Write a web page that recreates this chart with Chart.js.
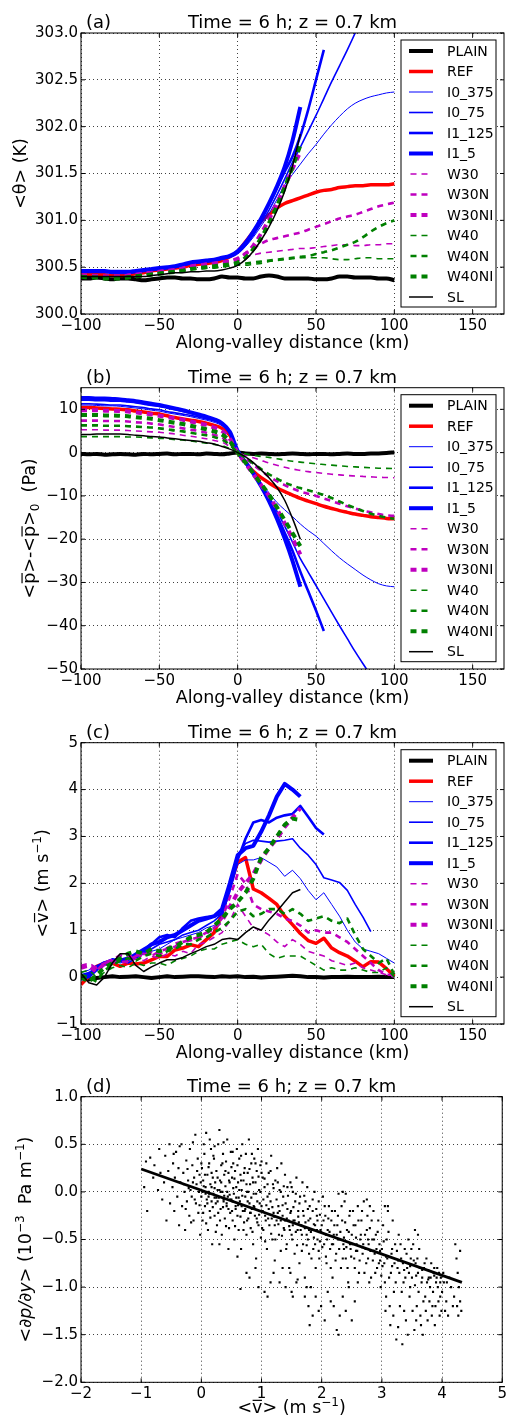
<!DOCTYPE html>
<html><head><meta charset="utf-8">
<script src="https://cdn.jsdelivr.net/npm/chart.js@4.4.0/dist/chart.umd.min.js"></script>
<style>
html,body{margin:0;padding:0;background:#fff;}
body{width:510px;height:1421px;position:relative;overflow:hidden;}
canvas{position:absolute;left:0;}
</style>
</head><body>
<canvas id="ca" width="510" height="355" style="top:0px"></canvas>
<canvas id="cb" width="510" height="355" style="top:355px"></canvas>
<canvas id="cc" width="510" height="355" style="top:710px"></canvas>
<canvas id="cd" width="510" height="356" style="top:1065px"></canvas>
<script>
// ---------------- DATA ----------------
const dist = [-100,-95,-90,-85,-80,-75,-70,-65,-60,-55,-50,-45,-40,-35,-30,-25,-20,-15,-10,-5,0,5,10,15,20,25,30,35,40,45,50,55,60,65,70,75,80,85,90,95,100];
const seriesNames = ['PLAIN','REF','I0_375','I0_75','I1_125','I1_5','W30','W30N','W30NI','W40','W40N','W40NI','SL'];
const xTicks = [-100,-50,0,50,100,150];
const yTicksA = [300.0,300.5,301.0,301.5,302.0,302.5,303.0];
const yTicksB = [-50,-40,-30,-20,-10,0,10];
const yTicksC = [-1,0,1,2,3,4,5];
const xTicksD = [-2,-1,0,1,2,3,4,5];
const yTicksD = [-2.0,-1.5,-1.0,-0.5,0.0,0.5,1.0];
const N = null;

// (a) <theta> (K)
const thetaPLAIN = [300.38,300.38,300.39,300.38,300.37,300.38,300.38,300.37,300.36,300.37,300.38,300.39,300.39,300.38,300.38,300.37,300.37,300.38,300.40,300.39,300.39,300.38,300.38,300.40,300.41,300.40,300.38,300.38,300.38,300.38,300.37,300.37,300.38,300.40,300.40,300.39,300.39,300.39,300.38,300.38,300.36];
const thetaREF = [300.42,300.42,300.42,300.42,300.41,300.41,300.42,300.43,300.44,300.46,300.47,300.48,300.49,300.50,300.52,300.53,300.54,300.55,300.57,300.61,300.67,300.77,300.88,300.99,301.06,301.13,301.18,301.21,301.24,301.27,301.30,301.32,301.33,301.35,301.36,301.37,301.37,301.38,301.38,301.38,301.39];
const thetaI0_375 = [300.44,300.44,300.44,300.44,300.43,300.43,300.43,300.44,300.45,300.46,300.47,300.48,300.49,300.51,300.53,300.54,300.55,300.56,300.58,300.60,300.64,300.72,300.82,300.94,301.07,301.22,301.38,301.49,301.60,301.71,301.81,301.92,302.02,302.11,302.19,302.25,302.29,302.32,302.34,302.36,302.37];
const thetaI0_75 = [300.45,300.45,300.45,300.45,300.44,300.44,300.44,300.45,300.46,300.47,300.48,300.49,300.50,300.52,300.54,300.55,300.56,300.57,300.59,300.61,300.65,300.73,300.84,300.97,301.11,301.27,301.44,301.62,301.78,301.95,302.12,302.30,302.48,302.65,302.82,303.00,303.20,N,N,N,N];
const thetaI1_125 = [300.46,300.46,300.46,300.46,300.45,300.45,300.45,300.46,300.47,300.48,300.49,300.50,300.51,300.53,300.55,300.56,300.57,300.58,300.60,300.62,300.66,300.75,300.87,301.01,301.17,301.34,301.52,301.68,301.90,302.18,302.50,302.82,N,N,N,N,N,N,N,N,N];
const thetaI1_5 = [300.46,300.46,300.46,300.46,300.45,300.45,300.45,300.46,300.47,300.48,300.49,300.50,300.51,300.53,300.55,300.56,300.57,300.58,300.60,300.62,300.67,300.76,300.88,301.02,301.18,301.36,301.57,301.85,302.21,N,N,N,N,N,N,N,N,N,N,N,N];
const thetaW30 = [300.42,300.42,300.41,300.41,300.41,300.41,300.42,300.43,300.44,300.45,300.46,300.47,300.48,300.50,300.52,300.53,300.54,300.55,300.56,300.57,300.59,300.61,300.63,300.65,300.66,300.67,300.68,300.69,300.70,300.70,300.71,300.72,300.73,300.74,300.74,300.73,300.73,300.74,300.74,300.75,300.75];
const thetaW30N = [300.41,300.41,300.41,300.40,300.40,300.40,300.41,300.42,300.43,300.44,300.45,300.46,300.47,300.49,300.51,300.52,300.53,300.54,300.55,300.57,300.60,300.65,300.70,300.75,300.79,300.81,300.83,300.85,300.87,300.90,300.93,300.96,300.99,301.02,301.04,301.06,301.09,301.12,301.15,301.17,301.19];
const thetaW30NI = [300.41,300.41,300.40,300.40,300.40,300.40,300.41,300.42,300.43,300.44,300.45,300.46,300.47,300.48,300.50,300.52,300.53,300.54,300.55,300.56,300.58,300.64,300.73,300.86,301.01,301.18,301.36,301.55,301.73,N,N,N,N,N,N,N,N,N,N,N,N];
const thetaW40 = [300.40,300.40,300.39,300.39,300.39,300.39,300.40,300.41,300.42,300.43,300.43,300.44,300.45,300.46,300.47,300.48,300.49,300.49,300.50,300.51,300.52,300.52,300.53,300.54,300.56,300.57,300.58,300.59,300.60,300.60,300.60,300.60,300.59,300.58,300.58,300.59,300.60,300.60,300.59,300.59,300.59];
const thetaW40N = [300.40,300.40,300.39,300.39,300.39,300.39,300.40,300.41,300.42,300.43,300.44,300.45,300.46,300.47,300.48,300.49,300.50,300.50,300.51,300.52,300.53,300.54,300.55,300.56,300.57,300.58,300.59,300.60,300.61,300.62,300.64,300.66,300.68,300.71,300.74,300.77,300.82,300.88,300.93,300.97,301.00];
const thetaW40NI = [300.40,300.39,300.39,300.38,300.38,300.38,300.39,300.40,300.41,300.42,300.43,300.44,300.45,300.46,300.48,300.49,300.50,300.51,300.52,300.53,300.55,300.60,300.69,300.81,300.97,301.15,301.35,301.57,301.80,N,N,N,N,N,N,N,N,N,N,N,N];
const thetaSL = [300.40,300.40,300.40,300.40,300.40,300.40,300.40,300.40,300.40,300.41,300.42,300.43,300.44,300.44,300.45,300.45,300.46,300.46,300.47,300.49,300.52,300.58,300.67,300.79,300.93,301.10,301.31,301.58,301.92,N,N,N,N,N,N,N,N,N,N,N,N];

// (b) pressure anomaly (Pa)
const presPLAIN = [-0.3,-0.4,-0.3,-0.5,-0.4,-0.3,-0.4,-0.5,-0.3,-0.4,-0.3,-0.2,-0.4,-0.3,-0.3,-0.4,-0.2,-0.3,-0.4,-0.2,0.0,-0.2,-0.3,-0.2,-0.3,-0.4,-0.3,-0.2,-0.3,-0.4,-0.3,-0.3,-0.4,-0.3,-0.2,-0.3,-0.3,-0.2,-0.2,-0.1,0.1];
const presREF = [10.4,10.4,10.3,10.2,10.1,10.0,9.9,9.6,9.4,9.1,8.9,8.5,8.1,7.8,7.5,7.2,6.8,6.3,5.6,4.0,0.0,-2.3,-4.3,-5.8,-7.0,-8.1,-9.0,-9.8,-10.6,-11.2,-11.8,-12.4,-12.9,-13.4,-13.8,-14.2,-14.5,-14.8,-15.0,-15.2,-15.3];
const presI0_375 = [11.0,11.0,10.9,10.8,10.8,10.7,10.5,10.3,10.1,9.8,9.6,9.2,8.9,8.6,8.3,7.9,7.5,7.0,6.2,4.3,0.2,-2.2,-4.5,-7.0,-9.3,-11.5,-13.2,-14.8,-16.5,-18.0,-19.3,-21.0,-22.7,-24.3,-25.7,-27.0,-28.3,-29.4,-30.3,-30.8,-31.0];
const presI0_75 = [11.3,11.3,11.2,11.1,11.0,11.0,10.8,10.6,10.4,10.1,9.9,9.5,9.2,8.9,8.6,8.2,7.8,7.3,6.5,4.5,0.2,-2.2,-4.6,-7.2,-10.2,-13.5,-17.0,-20.7,-24.5,-27.6,-30.7,-33.8,-36.9,-40.0,-43.0,-46.0,-48.8,-51.5,N,N,N];
const presI1_125 = [12.2,12.2,12.1,12.1,12.0,12.0,11.8,11.6,11.3,11.0,10.8,10.4,10.0,9.6,9.2,8.7,8.2,7.6,6.6,4.6,0.3,-2.2,-4.7,-7.5,-10.8,-14.5,-18.5,-22.7,-27.5,-32.0,-36.5,-41.2,N,N,N,N,N,N,N,N,N];
const presI1_5 = [12.6,12.6,12.5,12.5,12.4,12.3,12.1,11.9,11.6,11.3,11.0,10.6,10.2,9.8,9.3,8.8,8.3,7.7,6.8,4.8,0.4,-2.2,-4.8,-7.8,-11.2,-15.2,-19.8,-25.0,-31.0,N,N,N,N,N,N,N,N,N,N,N,N];
const presW30 = [5.3,5.3,5.3,5.2,5.2,5.2,5.1,5.0,4.9,4.8,4.7,4.5,4.3,4.0,3.8,3.5,3.2,2.8,2.4,1.4,0.0,-0.6,-1.2,-1.8,-2.4,-2.9,-3.4,-3.8,-4.1,-4.4,-4.6,-4.8,-5.0,-5.15,-5.3,-5.4,-5.5,-5.6,-5.7,-5.75,-5.8];
const presW30N = [7.4,7.4,7.4,7.3,7.3,7.3,7.2,7.0,6.9,6.7,6.5,6.2,5.9,5.6,5.3,5.0,4.6,4.1,3.5,2.1,0.0,-1.3,-2.8,-4.2,-5.5,-6.6,-7.5,-8.3,-9.0,-9.5,-10.0,-10.6,-11.2,-11.8,-12.4,-12.9,-13.4,-13.8,-14.2,-14.5,-14.6];
const presW30NI = [9.8,9.8,9.8,9.7,9.7,9.6,9.5,9.3,9.1,8.8,8.5,8.2,7.9,7.6,7.2,6.8,6.4,5.8,5.0,3.2,0.0,-2.5,-5.0,-7.5,-10.0,-13.0,-16.3,-19.8,-23.5,N,N,N,N,N,N,N,N,N,N,N,N];
const presW40 = [3.7,3.7,3.7,3.7,3.7,3.7,3.6,3.6,3.5,3.4,3.3,3.2,3.0,2.9,2.7,2.4,2.2,1.9,1.6,0.9,0.0,-0.3,-0.6,-0.9,-1.1,-1.4,-1.7,-2.0,-2.2,-2.4,-2.6,-2.75,-2.9,-3.05,-3.2,-3.3,-3.4,-3.5,-3.6,-3.65,-3.7];
const presW40N = [6.3,6.3,6.3,6.2,6.2,6.2,6.1,6.0,5.9,5.8,5.6,5.4,5.1,4.9,4.6,4.3,4.0,3.6,3.0,1.8,0.0,-1.2,-2.5,-3.8,-5.0,-6.0,-6.9,-7.6,-8.2,-8.7,-9.2,-9.8,-10.5,-11.3,-12.1,-12.8,-13.5,-14.1,-14.6,-15.0,-15.3];
const presW40NI = [8.7,8.7,8.7,8.6,8.6,8.5,8.4,8.2,8.0,7.8,7.5,7.2,6.9,6.6,6.2,5.8,5.4,4.9,4.2,2.6,0.0,-2.3,-4.8,-7.2,-9.7,-12.6,-15.6,-18.6,-21.6,N,N,N,N,N,N,N,N,N,N,N,N];
const presSL = [4.2,4.2,4.3,4.3,4.3,4.3,4.2,4.0,3.9,3.7,3.6,3.4,3.2,3.0,2.8,2.6,2.3,2.0,1.4,0.8,0.0,-1.0,-2.3,-4.0,-5.8,-8.0,-11.0,-15.2,-20.0,N,N,N,N,N,N,N,N,N,N,N,N];

// (c) <v> (m/s)
const velPLAIN = [0.0,-0.05,-0.02,0.0,0.02,0.0,0.01,0.02,0.0,-0.02,0.0,0.02,0.0,0.01,0.02,0.02,0.01,0.0,0.02,0.01,0.02,0.0,0.01,-0.01,0.0,0.01,0.02,0.03,0.02,0.0,0.0,-0.01,0.0,0.0,0.01,0.0,0.0,0.0,0.01,0.0,0.0];
const velREF = [-0.16,0.01,0.23,0.3,0.3,0.23,0.3,0.28,0.3,0.37,0.44,0.44,0.58,0.62,0.69,0.65,0.8,0.95,1.35,1.95,2.45,2.55,1.88,1.8,1.68,1.55,1.3,1.12,0.93,0.78,0.72,0.83,0.62,0.52,0.45,0.34,0.22,0.33,0.32,0.18,0.02];
const velI0_375 = [0.1,0.15,0.25,0.3,0.35,0.3,0.35,0.4,0.5,0.55,0.6,0.7,0.8,0.85,0.9,0.95,1.05,1.1,1.3,1.8,2.4,2.5,2.5,2.55,2.45,2.35,2.15,2.28,2.1,1.85,1.65,1.8,1.55,1.3,1.0,0.75,0.6,0.55,0.5,0.4,0.3];
const velI0_75 = [0.05,0.1,0.15,0.25,0.3,0.35,0.3,0.4,0.5,0.6,0.7,0.75,0.8,0.9,0.95,1.0,1.1,1.2,1.35,1.9,2.6,2.85,2.92,2.9,2.88,2.9,2.92,2.95,2.75,2.6,2.4,2.12,2.07,2.02,1.85,1.55,1.28,0.97,N,N,N];
const velI1_125 = [-0.05,0.0,0.15,0.3,0.38,0.35,0.4,0.5,0.6,0.7,0.85,0.9,0.85,1.05,1.2,1.25,1.28,1.3,1.35,1.9,2.5,2.95,3.3,3.35,3.3,3.4,3.45,3.48,3.65,3.42,3.18,3.04,N,N,N,N,N,N,N,N,N];
const velI1_5 = [0.0,0.05,0.2,0.3,0.35,0.35,0.4,0.45,0.55,0.7,0.75,0.85,0.9,1.0,1.1,1.2,1.25,1.3,1.45,2.0,2.6,2.75,2.8,3.1,3.45,3.85,4.12,4.0,3.85,N,N,N,N,N,N,N,N,N,N,N,N];
const velW30 = [0.25,0.3,0.2,0.25,0.3,0.35,0.3,0.4,0.35,0.45,0.4,0.5,0.45,0.55,0.5,0.7,0.75,0.85,0.95,1.2,1.55,1.3,1.05,1.0,0.9,0.75,0.65,0.8,0.7,0.55,0.5,0.45,0.35,0.3,0.25,0.3,0.2,0.15,0.1,0.05,0.0];
const velW30N = [0.2,0.25,0.2,0.3,0.35,0.3,0.35,0.45,0.5,0.45,0.55,0.6,0.65,0.75,0.8,0.85,0.95,1.05,1.25,1.7,2.2,2.0,1.55,1.45,1.4,1.35,1.25,1.2,1.1,0.95,1.0,0.95,0.95,0.85,0.75,0.6,0.45,0.3,0.15,0.05,0.05];
const velW30NI = [0.2,0.25,0.1,0.3,0.35,0.45,0.4,0.5,0.45,0.55,0.5,0.6,0.7,0.75,0.8,0.85,0.95,1.05,1.2,1.5,1.8,2.0,2.2,2.5,2.75,2.95,3.2,3.4,3.6,N,N,N,N,N,N,N,N,N,N,N,N];
const velW40 = [0.1,0.15,0.0,0.1,0.2,0.25,0.2,0.3,0.25,0.3,0.3,0.25,0.35,0.4,0.45,0.55,0.6,0.6,0.7,0.75,0.8,0.7,0.65,0.7,0.5,0.4,0.45,0.45,0.45,0.35,0.25,0.15,0.2,0.15,0.15,0.2,0.15,0.1,0.1,0.2,0.0];
const velW40N = [0.05,0.0,-0.1,0.15,0.25,0.35,0.4,0.35,0.45,0.5,0.45,0.55,0.6,0.7,0.7,0.8,0.85,0.95,1.05,1.2,1.4,1.45,1.3,1.35,1.45,1.45,1.35,1.45,1.35,1.2,1.25,1.3,1.2,1.15,1.25,0.9,0.6,0.45,0.3,0.4,0.05];
const velW40NI = [0.0,-0.1,0.05,0.2,0.3,0.4,0.5,0.55,0.5,0.6,0.55,0.6,0.65,0.75,0.85,0.9,0.95,1.1,1.25,1.45,1.6,1.8,2.1,2.55,2.75,3.0,3.25,3.38,3.35,N,N,N,N,N,N,N,N,N,N,N,N];
const velSL = [0.08,-0.12,-0.17,0.0,0.3,0.5,0.5,0.25,0.12,0.22,0.3,0.37,0.37,0.42,0.5,0.57,0.65,0.7,0.8,0.83,0.8,0.95,1.07,1.0,1.22,1.4,1.6,1.8,1.87,N,N,N,N,N,N,N,N,N,N,N,N];

// (d) scatter: [<v>, <dp/dy>] pairs read from the cloud, and regression line ends
const scatterPoints = [
[-0.95,0.05],[-0.92,0.32],[-0.9,-0.2],[-0.85,0.36],[-0.8,0.15],[-0.78,0.28],[-0.72,0.02],[-0.7,0.45],[-0.68,0.2],[-0.65,-0.08],[-0.62,0.1],[-0.6,0.38],[-0.58,-0.3],[-0.55,0.22],[-0.53,0.5],[-0.52,-0.12],
[-0.48,0.05],[-0.47,0.3],[-0.45,-0.2],[-0.44,0.15],[-0.42,0.42],[-0.4,-0.05],[-0.38,0.25],[-0.37,-0.35],[-0.35,0.1],[-0.33,0.5],[-0.32,-0.15],[-0.3,0.2],[-0.28,0.0],[-0.27,-0.4],[-0.25,0.33],[-0.24,-0.1],[-0.22,0.12],[-0.2,-0.25],[-0.19,0.45],[-0.18,0.02],[-0.16,-0.05],[-0.15,0.28],[-0.13,-0.3],[-0.12,0.15],[-0.1,0.6],[-0.09,-0.12],[-0.08,0.08],[-0.06,0.35],[-0.05,-0.22],[-0.04,0.0],[-0.03,0.18],[-0.02,-0.45],[-0.01,0.1],
[0.0,-0.05],[0.01,0.25],[0.02,-0.3],[0.03,0.12],[0.05,0.4],[0.06,-0.15],[0.07,0.05],[0.08,0.62],[0.09,-0.08],[0.1,0.18],[0.11,-0.4],[0.12,0.0],[0.13,0.3],[0.14,-0.2],[0.15,0.08],[0.16,0.45],[0.17,-0.1],[0.18,-0.55],[0.19,0.15],[0.2,-0.02],[0.21,0.35],[0.22,-0.25],[0.23,0.1],[0.24,-0.12],[0.25,0.22],[0.26,-0.35],[0.27,0.02],[0.28,0.5],[0.29,-0.06],[0.3,0.65],[0.31,0.12],[0.32,-0.18],[0.33,0.28],[0.34,-0.45],[0.35,0.0],[0.36,0.4],[0.37,-0.1],[0.38,0.18],[0.39,-0.28],[0.4,0.06],[0.41,0.32],[0.42,-0.15],[0.43,0.55],[0.44,-0.05],[0.45,0.2],[0.46,-0.38],[0.47,0.1],[0.48,-0.22],[0.49,0.42],
[0.5,-0.08],[0.51,0.15],[0.52,-0.3],[0.53,0.3],[0.54,-0.02],[0.55,-0.5],[0.56,0.22],[0.57,-0.15],[0.58,0.05],[0.59,0.45],[0.6,-0.25],[0.61,0.1],[0.62,-0.4],[0.63,0.35],[0.64,-0.1],[0.65,0.18],[0.66,-0.6],[0.67,0.02],[0.68,0.5],[0.69,-0.2],[0.7,0.12],[0.71,-0.32],[0.72,0.25],[0.73,-0.05],[0.74,0.4],[0.75,-0.45],[0.76,0.0],[0.77,0.2],[0.78,-0.28],[0.79,0.55],[0.8,-0.12],[0.81,0.08],[0.82,-0.38],[0.83,0.3],[0.84,-0.18],[0.85,0.15],[0.86,-0.55],[0.87,-0.02],[0.88,0.35],[0.89,-0.25],[0.9,0.1],[0.91,-0.7],[0.92,0.22],[0.93,-0.1],[0.94,0.45],[0.95,-0.35],[0.96,0.02],[0.97,-0.2],[0.98,0.28],[0.99,-0.48],
[1.0,-0.15],[1.02,0.15],[1.03,-0.4],[1.05,0.05],[1.06,-0.25],[1.08,0.3],[1.09,-0.6],[1.1,-0.05],[1.12,0.2],[1.13,-0.35],[1.15,-0.1],[1.16,0.38],[1.18,-0.5],[1.19,0.08],[1.2,-0.22],[1.22,-0.72],[1.23,0.12],[1.25,-0.3],[1.26,0.25],[1.28,-0.15],[1.29,-0.45],[1.3,0.02],[1.32,-0.62],[1.33,0.3],[1.35,-0.25],[1.36,-0.05],[1.38,-0.4],[1.39,0.18],[1.4,-0.12],[1.42,-0.55],[1.43,0.05],[1.45,-0.3],[1.46,-0.8],[1.48,0.1],[1.49,-0.2],
[1.5,-0.45],[1.52,0.0],[1.53,-0.3],[1.55,-0.65],[1.56,-0.1],[1.58,0.15],[1.6,-0.4],[1.61,-0.2],[1.63,-0.75],[1.64,-0.05],[1.66,-0.35],[1.68,0.1],[1.69,-0.55],[1.7,-0.25],[1.72,-0.9],[1.73,-0.1],[1.75,-0.45],[1.76,0.05],[1.78,-0.3],[1.79,-0.65],[1.8,-0.15],[1.82,-1.0],[1.83,-0.4],[1.85,-0.2],[1.86,-0.6],[1.88,0.0],[1.89,-0.35],[1.9,-0.8],[1.92,-0.25],[1.93,-0.5],[1.95,-0.1],[1.96,-0.7],[1.98,-0.4],[1.99,-1.2],
[1.48,-0.85],[1.5,-1.05],[1.52,-1.1],[1.58,-0.95],[1.72,-1.1],[1.78,-1.2],[1.8,-1.4],[1.85,-1.3],[1.9,-1.1],[1.95,-1.25],[2.05,-1.35],[2.1,-1.05],[2.2,-1.2],[2.25,-1.45],[2.28,-1.5],[2.3,-1.3],[2.35,-1.1],[2.45,-1.0],[2.55,-1.15],[2.6,-0.95],
[0.75,-0.85],[0.8,-0.9],[0.95,-1.0],[1.05,-1.05],[1.1,-1.1],[1.15,-0.95],[0.65,-1.02],[1.3,-0.95],[1.4,-1.0],
[2.0,-0.35],[2.02,-0.05],[2.04,-0.55],[2.06,-0.25],[2.08,-0.75],[2.1,-0.4],[2.12,-0.15],[2.14,-0.6],[2.16,-0.3],[2.18,-0.9],[2.2,-0.45],[2.22,-0.2],[2.24,-0.65],[2.26,-0.35],[2.28,-0.02],[2.3,-0.5],[2.32,-0.8],[2.34,-0.3],[2.36,-0.55],[2.38,-0.1],[2.4,-0.7],[2.42,-0.4],[2.44,-0.95],[2.46,-0.25],[2.48,-0.6],
[2.5,-0.45],[2.52,-0.2],[2.54,-0.7],[2.56,-0.35],[2.58,-0.55],[2.6,-0.15],[2.62,-0.85],[2.64,-0.5],[2.66,-0.3],[2.68,-0.65],[2.7,-0.1],[2.72,-0.45],[2.74,-0.75],[2.76,-0.25],[2.78,-0.55],[2.8,-0.38],[2.82,-0.9],[2.84,-0.5],[2.86,-0.2],[2.88,-0.65],[2.9,-0.45],[2.92,-0.8],[2.94,-0.3],[2.96,-0.55],[2.98,-1.0],
[3.0,-0.6],[3.02,-0.35],[3.04,-0.75],[3.06,-1.25],[3.08,-0.5],[3.1,-0.15],[3.12,-0.9],[3.14,-1.4],[3.16,-0.65],[3.18,-0.3],[3.2,-1.05],[3.22,-0.55],[3.24,-1.55],[3.26,-0.8],[3.28,-0.45],[3.3,-1.2],[3.32,-0.7],[3.34,-1.6],[3.36,-0.95],[3.38,-0.6],[3.4,-1.35],[3.42,-0.8],[3.44,-0.5],[3.46,-1.1],[3.48,-0.7],
[3.5,-0.9],[3.52,-0.55],[3.54,-1.45],[3.56,-0.75],[3.58,-1.2],[3.6,-0.85],[3.62,-0.6],[3.64,-1.3],[3.66,-0.95],[3.68,-1.5],[3.7,-0.8],[3.72,-1.1],[3.74,-0.7],[3.76,-1.35],[3.78,-0.9],[3.8,-1.0],[3.82,-0.75],[3.84,-1.2],[3.86,-0.85],[3.88,-1.4],[3.9,-0.95],[3.92,-0.8],[3.94,-1.15],[3.96,-1.3],[3.98,-0.9],
[4.0,-1.05],[4.02,-0.85],[4.05,-1.25],[4.08,-0.95],[4.1,-1.3],[4.15,-1.0],[4.18,-1.2],[4.22,-0.55],[4.24,-0.7],[4.26,-0.85],[4.28,-1.0],[4.3,-1.15],[4.32,-1.25],[4.3,-0.62],[4.27,-1.3],
[0.02,0.0],[0.07,-0.02],[0.12,-0.05],[0.17,0.05],[0.22,-0.06],[0.27,-0.1],[0.32,0.0],[0.37,-0.08],[0.42,-0.12],[0.47,-0.03],[0.52,-0.1],[0.57,-0.18],[0.62,-0.06],[0.67,-0.15],[0.72,-0.2],[0.77,-0.1],[0.82,-0.22],[0.87,-0.15],[0.92,-0.28],[0.97,-0.12],[1.02,-0.2],[1.07,-0.3],[1.12,-0.18],[1.17,-0.28],[1.22,-0.35],[1.27,-0.22],[1.32,-0.3],[1.37,-0.38],[1.42,-0.28],[1.47,-0.4],[1.52,-0.35],[1.57,-0.42],[1.62,-0.32],[1.67,-0.45],[1.72,-0.38],[1.77,-0.5],[1.82,-0.42],[1.87,-0.48],[1.92,-0.4],[1.97,-0.52],[2.07,-0.45],[2.17,-0.55],[2.27,-0.5],[2.37,-0.6],[2.47,-0.55],[2.57,-0.62],[2.67,-0.58],[2.77,-0.7],[2.87,-0.62],[2.97,-0.72],[3.07,-0.68],[3.17,-0.78],[3.27,-0.72],[3.37,-0.82],[3.47,-0.78],[3.57,-0.88],[3.67,-0.82],[3.77,-0.92],[3.87,-0.88],[3.97,-0.95],
[2.35,0.0],[2.4,-0.02],[2.75,-0.08],[2.8,-0.15],[3.05,-0.15],[3.1,-0.2],[3.55,-0.4],[3.6,-0.45],
[-0.29,0.08],[-0.26,-0.18],[-0.23,0.24],[-0.21,0.04],[-0.17,-0.32],[-0.14,0.1],[-0.11,-0.08],[-0.07,0.22],[-0.03,-0.14],[0.0,0.3],[0.03,-0.22],[0.04,0.06],[0.06,0.18],[0.08,-0.33],[0.1,-0.12],[0.12,0.26],[0.13,-0.02],[0.15,-0.27],[0.17,0.2],[0.19,-0.16],[0.2,0.38],[0.22,0.04],[0.24,-0.42],[0.25,-0.06],[0.27,0.15],[0.28,-0.22],[0.3,0.02],[0.31,-0.3],[0.33,0.1],[0.35,0.3],[0.36,-0.16],[0.38,-0.04],[0.4,0.22],[0.41,-0.36],[0.43,0.0],[0.45,-0.18],[0.46,0.12],[0.48,-0.08],[0.5,0.26],
[0.51,-0.2],[0.53,0.04],[0.55,0.14],[0.56,-0.36],[0.58,-0.06],[0.6,0.28],[0.61,-0.14],[0.63,0.02],[0.65,-0.26],[0.66,0.12],[0.68,-0.04],[0.7,-0.4],[0.71,0.2],[0.73,-0.18],[0.75,0.08],[0.76,-0.3],[0.78,0.0],[0.8,0.24],[0.81,-0.22],[0.83,-0.06],[0.85,-0.42],[0.86,0.1],[0.88,-0.16],[0.9,0.3],[0.91,-0.02],[0.93,-0.32],[0.95,0.16],[0.96,-0.24],[0.98,0.0],[1.0,0.2],[1.01,-0.38],[1.03,-0.08],[1.05,0.14],[1.06,-0.52],[1.08,-0.14],[1.1,0.08],[1.11,-0.28],[1.13,-0.02],[1.15,0.22],[1.16,-0.44],[1.18,-0.16],[1.2,0.04],
[1.21,-0.26],[1.23,-0.5],[1.25,-0.08],[1.27,0.1],[1.28,-0.34],[1.3,-0.2],[1.32,0.0],[1.34,-0.46],[1.35,-0.14],[1.37,0.06],[1.39,-0.3],[1.41,-0.6],[1.43,-0.18],[1.44,-0.04],[1.46,-0.36],[1.48,-0.22],[1.5,0.05],[1.51,-0.5],[1.53,-0.16],[1.55,-0.3],[1.57,-0.02],[1.59,-0.56],[1.61,-0.26],[1.63,-0.12],[1.65,-0.4],[1.67,-0.62],[1.69,-0.2],[1.71,-0.04],[1.73,-0.32],[1.75,-0.56],[1.77,-0.18],[1.79,-0.4],[1.81,-0.28],[1.83,-0.7],[1.85,-0.08],[1.87,-0.34],[1.89,-0.55],[1.91,-0.18],[1.93,-0.3],[1.95,-0.62],[1.97,-0.24],[1.99,-0.42],
[2.01,-0.58],[2.03,-0.3],[2.05,-0.15],[2.07,-0.68],[2.09,-0.5],[2.11,-0.28],[2.13,-0.42],[2.15,-0.8],[2.17,-0.2],[2.19,-0.55],[2.21,-0.35],[2.23,-0.72],[2.25,-0.45],[2.27,-0.25],[2.29,-0.6],[2.31,-0.42],[2.33,-0.15],[2.35,-0.7],[2.37,-0.48],[2.39,-0.32],[2.41,-0.58],[2.43,-0.8],[2.45,-0.42],[2.47,-0.2],[2.49,-0.68],[2.51,-0.55],[2.53,-0.35],[2.55,-0.8],[2.57,-0.48],[2.59,-0.62],[2.61,-0.3],[2.63,-0.72],[2.65,-0.45],[2.67,-0.2],[2.69,-0.55],[2.71,-0.85],[2.73,-0.6],[2.75,-0.4],[2.77,-0.5],[2.79,-0.95],[2.81,-0.62],[2.83,-0.3],[2.85,-0.72],[2.87,-0.5],[2.89,-0.85],[2.91,-0.6],[2.93,-0.42],[2.95,-0.75],[2.97,-0.62],[2.99,-0.88],
[3.01,-0.78],[3.03,-0.52],[3.05,-0.95],[3.07,-1.1],[3.09,-0.7],[3.11,-0.42],[3.13,-1.2],[3.15,-0.85],[3.17,-0.6],[3.19,-1.3],[3.21,-0.75],[3.23,-0.95],[3.25,-0.62],[3.27,-1.42],[3.29,-0.85],[3.31,-0.55],[3.33,-1.05],[3.35,-0.75],[3.37,-1.25],[3.39,-0.9],[3.41,-0.65],[3.43,-1.5],[3.45,-0.85],[3.47,-1.0],[3.49,-0.6],[3.51,-1.25],[3.53,-0.72],[3.55,-0.98],[3.57,-1.35],[3.59,-0.7],[3.61,-1.05],[3.63,-0.8],[3.65,-1.4],[3.67,-0.9],[3.69,-1.15],[3.71,-0.75],[3.73,-1.25],[3.75,-0.95],[3.77,-0.82],[3.79,-1.15],[3.81,-0.9],[3.83,-1.3],[3.85,-1.05],[3.87,-0.8],[3.89,-1.2],[3.91,-0.9],[3.93,-1.0],[3.95,-0.85],[3.97,-1.1],[3.99,-1.25],[4.03,-0.95],[4.07,-1.15],[4.12,-0.9],[4.2,-1.1],[4.25,-1.2],
[-0.46,0.4],[-0.36,0.48],[-0.14,0.52],[0.04,0.5],[0.14,0.55],[0.22,0.48],[0.37,0.52],[0.52,0.42],[0.66,0.38],[0.84,0.4],[1.0,0.32],
[0.3,-0.55],[0.45,-0.6],[0.6,-0.68],[0.9,-0.8],[1.2,-0.85],[1.35,-0.8],[1.6,-0.92],[1.75,-1.0],[2.15,-1.15],[2.4,-1.25],[2.5,-1.35]
];
const fitV = [-1.0, 4.33];
const fitG = [0.24, -0.95];

// ---------------- STYLE ----------------
const FONT = '"DejaVu Sans", "Liberation Sans", sans-serif';
const MAG = '#bf00bf', GRN = '#008000', BLU = '#0000ff';
const DASH = [6,5];
const seriesStyle = {
  PLAIN:{c:'#000000',w:4,d:[]}, REF:{c:'#ff0000',w:3.5,d:[]},
  I0_375:{c:BLU,w:1,d:[]}, I0_75:{c:BLU,w:1.6,d:[]}, I1_125:{c:BLU,w:2.6,d:[]}, I1_5:{c:BLU,w:4,d:[]},
  W30:{c:MAG,w:1.6,d:DASH}, W30N:{c:MAG,w:2.6,d:DASH}, W30NI:{c:MAG,w:4,d:DASH},
  W40:{c:GRN,w:1.6,d:DASH}, W40N:{c:GRN,w:2.6,d:DASH}, W40NI:{c:GRN,w:4,d:DASH},
  SL:{c:'#000000',w:1.5,d:[]}
};
Chart.defaults.font.family = FONT;
Chart.defaults.font.size = 15;
Chart.defaults.color = '#000';

const minus = s => String(s).replace('-', '\u2212');

function drawRich(ctx, segs, x, y, angle) {
  const base = 17.5;
  ctx.save();
  ctx.translate(x, y); ctx.rotate(angle);
  ctx.textAlign = 'left'; ctx.textBaseline = 'alphabetic'; ctx.fillStyle = '#000';
  const fontOf = s => (s.italic ? 'italic ' : '') + ((s.sup || s.sub) ? 12 : base) + 'px ' + FONT;
  let total = 0;
  segs.forEach(s => { ctx.font = fontOf(s); total += ctx.measureText(s.t).width; });
  let cx = -total / 2;
  segs.forEach(s => {
    ctx.font = fontOf(s);
    const w = ctx.measureText(s.t).width;
    const dy = s.sup ? -7 : (s.sub ? 4 : 0);
    ctx.fillText(s.t, cx, dy);
    if (s.bar) {
      ctx.strokeStyle = '#000'; ctx.lineWidth = 1.2; ctx.setLineDash([]);
      ctx.beginPath(); ctx.moveTo(cx + 0.5, -0.74 * base); ctx.lineTo(cx + w - 0.5, -0.74 * base); ctx.stroke();
    }
    cx += w;
  });
  ctx.restore();
}

const panelPlugin = {
  id: 'panel',
  afterDraw(chart, args, o) {
    const ctx = chart.ctx, a = chart.chartArea;
    const xs = chart.scales.x, ys = chart.scales.y;
    ctx.save();
    ctx.setLineDash([]);
    ctx.strokeStyle = '#000'; ctx.lineWidth = 1;
    ctx.strokeRect(a.left, a.top, a.right - a.left, a.bottom - a.top);
    ctx.beginPath();
    xs.ticks.forEach(t => { const p = xs.getPixelForValue(t.value);
      ctx.moveTo(p, a.bottom); ctx.lineTo(p, a.bottom - 4); ctx.moveTo(p, a.top); ctx.lineTo(p, a.top + 4); });
    ys.ticks.forEach(t => { const p = ys.getPixelForValue(t.value);
      ctx.moveTo(a.left, p); ctx.lineTo(a.left + 4, p); ctx.moveTo(a.right, p); ctx.lineTo(a.right - 4, p); });
    ctx.stroke();

    if (o.legend) {
      const ds = chart.data.datasets;
      const rowH = 20.5, boxW = 95;
      const right = a.right - 8, left = right - boxW, top = a.top + 7;
      const h = rowH * ds.length + 0.5;
      ctx.fillStyle = '#fff';
      ctx.fillRect(left, top, boxW, h);
      ctx.strokeStyle = '#000'; ctx.lineWidth = 1;
      ctx.strokeRect(left, top, boxW, h);
      ds.forEach((d, i) => {
        const yy = top + 11 + i * rowH;
        ctx.strokeStyle = d.borderColor; ctx.lineWidth = d.borderWidth;
        ctx.setLineDash(d.borderDash || []);
        ctx.lineCap = 'butt';
        ctx.beginPath();
        if (d.borderDash && d.borderDash.length) { ctx.moveTo(left + 9.5, yy); ctx.lineTo(left + 28.5, yy); }
        else { ctx.moveTo(left + 8, yy); ctx.lineTo(left + 32, yy); }
        ctx.stroke();
        ctx.setLineDash([]);
        ctx.fillStyle = '#000'; ctx.font = '14px ' + FONT;
        ctx.textAlign = 'left'; ctx.textBaseline = 'middle';
        ctx.fillText(d.label, left + 46, yy + 1);
      });
    }

    ctx.fillStyle = '#000'; ctx.textBaseline = 'alphabetic';
    ctx.font = '18px ' + FONT;
    ctx.textAlign = 'left'; ctx.fillText(o.panel, a.left + 5, a.top - 5);
    ctx.textAlign = 'center'; ctx.fillText(o.title, (a.left + a.right) / 2, a.top - 5);
    drawRich(ctx, o.xlabel, (a.left + a.right) / 2, a.bottom + o.xOff, 0);
    drawRich(ctx, o.ylabel, o.yX, (a.top + a.bottom) / 2, -Math.PI / 2);
    ctx.restore();
  }
};

const gridOpts = { color: 'rgba(0,0,0,0.75)', lineWidth: 1, drawTicks: false };
const borderOpts = { display: false, dash: [1, 3] };

function makeScales(xMin, xMax, xT, xFmt, yMin, yMax, yT, yFmt, xH) {
  return {
    x: { type: 'linear', min: xMin, max: xMax,
      afterBuildTicks: s => { s.ticks = xT.map(v => ({ value: v })); },
      afterFit: s => { s.height = xH; },
      ticks: { callback: xFmt, padding: 3, maxRotation: 0, autoSkip: false, font: { size: 15 } },
      grid: gridOpts, border: borderOpts },
    y: { type: 'linear', min: yMin, max: yMax,
      afterBuildTicks: s => { s.ticks = yT.map(v => ({ value: v })); },
      afterFit: s => { s.width = 81; },
      ticks: { callback: yFmt, padding: 3, autoSkip: false, font: { size: 15 } },
      grid: gridOpts, border: borderOpts }
  };
}

function lineDatasets(panel, smooth) {
  return seriesNames.map((n, i) => {
    const st = seriesStyle[n];
    return {
      label: n,
      data: dist.map((d, k) => ({ x: d, y: panel[n][k] })),
      borderColor: st.c, borderWidth: st.w, borderDash: st.d,
      borderCapStyle: 'butt', borderJoinStyle: 'round',
      pointRadius: 0, fill: false, spanGaps: false,
      cubicInterpolationMode: smooth ? 'monotone' : 'default', tension: 0,
      order: seriesNames.length - i, clip: 0
    };
  });
}

const TITLE = 'Time = 6 h; z = 0.7 km';
const XLAB = [{ t: 'Along-valley distance (km)' }];
const fmtX = v => minus(v);

function lineChart(id, panel, smooth, yMin, yMax, yT, yFmt, panelLabel, ylabel, yX) {
  return new Chart(document.getElementById(id), {
    type: 'line',
    data: { datasets: lineDatasets(panel, smooth) },
    options: {
      responsive: false, animation: false, events: [],
      layout: { padding: { left: 0, right: 6, top: id === 'ca' ? 33 : 32.7, bottom: 0 } },
      scales: makeScales(-100, 170, xTicks, fmtX, yMin, yMax, yT, yFmt, 41),
      plugins: { legend: { display: false }, tooltip: { enabled: false },
        panel: { legend: true, panel: panelLabel, title: TITLE, xlabel: XLAB, xOff: 34, ylabel: ylabel, yX: yX } }
    },
    plugins: [panelPlugin]
  });
}

const panelA = { PLAIN: thetaPLAIN, REF: thetaREF, I0_375: thetaI0_375, I0_75: thetaI0_75, I1_125: thetaI1_125, I1_5: thetaI1_5, W30: thetaW30, W30N: thetaW30N, W30NI: thetaW30NI, W40: thetaW40, W40N: thetaW40N, W40NI: thetaW40NI, SL: thetaSL };
const panelB = { PLAIN: presPLAIN, REF: presREF, I0_375: presI0_375, I0_75: presI0_75, I1_125: presI1_125, I1_5: presI1_5, W30: presW30, W30N: presW30N, W30NI: presW30NI, W40: presW40, W40N: presW40N, W40NI: presW40NI, SL: presSL };
const panelC = { PLAIN: velPLAIN, REF: velREF, I0_375: velI0_375, I0_75: velI0_75, I1_125: velI1_125, I1_5: velI1_5, W30: velW30, W30N: velW30N, W30NI: velW30NI, W40: velW40, W40N: velW40N, W40NI: velW40NI, SL: velSL };

lineChart('ca', panelA, true, 300, 303, yTicksA, v => v.toFixed(1), '(a)', [{ t: '<θ> (K)' }], 26);
lineChart('cb', panelB, true, -50, 15, yTicksB, v => minus(v), '(b)',
  [{ t: '<' }, { t: 'p', bar: true }, { t: '>-<' }, { t: 'p', bar: true }, { t: '>' }, { t: '0', sub: true }, { t: '  (Pa)' }], 35);
lineChart('cc', panelC, false, -1, 5, yTicksC, v => minus(v), '(c)',
  [{ t: '<' }, { t: 'v', bar: true }, { t: '> (m s' }, { t: '\u22121', sup: true }, { t: ')' }], 47.5);

// (d) scatter
new Chart(document.getElementById('cd'), {
  type: 'scatter',
  data: { datasets: [
    { label: 'points', data: scatterPoints.map(p => ({ x: p[0], y: p[1] })),
      pointStyle: 'rect', pointRadius: 1.5, pointBorderWidth: 0, borderWidth: 0,
      backgroundColor: '#000', pointBackgroundColor: '#000', showLine: false, order: 2 },
    { label: 'fit', data: fitV.map((v, i) => ({ x: v, y: fitG[i] })),
      showLine: true, borderColor: '#000', borderWidth: 2.8, pointRadius: 0, order: 1, borderCapStyle: 'butt' }
  ] },
  options: {
    responsive: false, animation: false, events: [],
    layout: { padding: { left: 0, right: 6, top: 31.7, bottom: 0 } },
    scales: makeScales(-2, 5, xTicksD, v => minus(v), -2, 1, yTicksD, v => minus(v.toFixed(1)), 38.7),
    plugins: { legend: { display: false }, tooltip: { enabled: false },
      panel: { legend: false, panel: '(d)', title: TITLE,
        xlabel: [{ t: '<' }, { t: 'v', bar: true }, { t: '> (m s' }, { t: '\u22121', sup: true }, { t: ')' }], xOff: 31,
        ylabel: [{ t: '<' }, { t: '∂p/∂y', italic: true }, { t: '> (10' }, { t: '\u22123', sup: true }, { t: '  Pa m' }, { t: '\u22121', sup: true }, { t: ')' }], yX: 31 } }
  },
  plugins: [panelPlugin]
});
</script>
</body></html>
